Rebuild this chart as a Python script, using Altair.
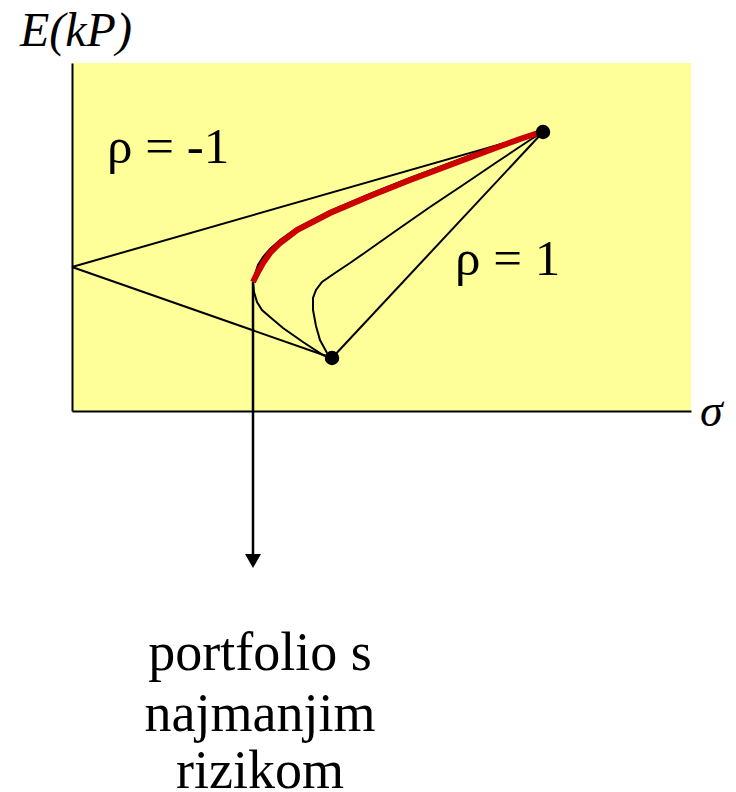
import altair as alt
import pandas as pd

# ---- data (sigma on x, expected return E(kP) on y; chart units) ----
asset_low = (260, 53)      # lower-risk asset
asset_high = (471, 279)    # higher-risk asset
vertex = (0, 144)          # rho = -1 zero-risk portfolio

outer_x = [260, 251, 231, 211, 198, 190, 185, 182, 181, 182, 183, 186, 191, 198, 208, 225, 258, 298, 338, 378, 418, 448, 471]
outer_y = [53, 56, 69, 83, 94, 101, 109, 119, 129, 133, 137, 146, 154, 162, 171, 183, 200, 217, 233, 248, 263, 273, 279]

inner_x = [260, 255, 248, 244, 241, 241, 244, 250, 263, 278, 291, 325, 358, 391, 425, 458, 471]
inner_y = [53, 58, 71, 85, 101, 113, 121, 129, 138, 148, 157, 181, 204, 226, 249, 271, 279]

frontier_x = [181, 186, 191, 198, 208, 225, 258, 298, 338, 378, 418, 448, 469]
frontier_y = [129, 139, 148, 158, 168, 181, 198, 215, 231, 246, 261, 272, 279]

min_risk = (181, 129)
arrow_end_y = -144
arrow_head_y = -150

labels_rho = ["ρ = -1", "ρ = 1"]
labels_rho_x = [35, 383]
labels_rho_y = [248, 136]

bottom_lines = ["portfolio s", "najmanjim", "rizikom"]
bottom_x = [188, 188, 188]
bottom_y = [-259, -320, -377]

# ---- build tables ----
rows = []
def add(series, xs, ys):
    for i, (a, b) in enumerate(zip(xs, ys)):
        rows.append({"series": series, "i": i, "x": a, "y": b})

add("minus1_low", [vertex[0], asset_low[0]], [vertex[1], asset_low[1]])
add("minus1_high", [vertex[0], asset_high[0]], [vertex[1], asset_high[1]])
add("plus1", [asset_low[0], asset_high[0]], [asset_low[1], asset_high[1]])
add("outer", outer_x, outer_y)
add("inner", inner_x, inner_y)
lines_df = pd.DataFrame(rows)

frontier_df = pd.DataFrame({"i": range(len(frontier_x)), "x": frontier_x, "y": frontier_y})
dots_df = pd.DataFrame({"x": [asset_low[0], asset_high[0]], "y": [asset_low[1], asset_high[1]]})
arrow_df = pd.DataFrame({"x": [min_risk[0]], "y": [min_risk[1]], "y2": [arrow_end_y]})
head_df = pd.DataFrame({"x": [min_risk[0]], "y": [arrow_head_y]})
rho_df = pd.DataFrame({"t": labels_rho, "x": labels_rho_x, "y": labels_rho_y})
bottom_df = pd.DataFrame({"t": bottom_lines, "x": bottom_x, "y": bottom_y})
ylab_df = pd.DataFrame({"t": ["E(kP)"], "x": [-52], "y": [365]})
xlab_df = pd.DataFrame({"t": ["σ"], "x": [628], "y": [-15]})

xs = alt.Scale(domain=[0, 619], nice=False, zero=False)
ys = alt.Scale(domain=[0, 348], nice=False, zero=False)
X = alt.X("x:Q", scale=xs, title=None)
Y = alt.Y("y:Q", scale=ys, title=None)

FONT = "Liberation Serif, Times New Roman, serif"

lines = alt.Chart(lines_df).mark_line(color="black", strokeWidth=2).encode(
    x=X, y=Y, detail="series:N", order="i:Q")
frontier = alt.Chart(frontier_df).mark_line(color="#CC0000", strokeWidth=6).encode(
    x=X, y=Y, order="i:Q")
dots = alt.Chart(dots_df).mark_circle(color="black", size=210, opacity=1).encode(x=X, y=Y)
arrow = alt.Chart(arrow_df).mark_rule(color="black", strokeWidth=2.5).encode(
    x=X, y=Y, y2="y2:Q")
head = alt.Chart(head_df).mark_point(shape="triangle-down", filled=True, color="black",
                                     size=256, opacity=1).encode(x=X, y=Y)
rho = alt.Chart(rho_df).mark_text(font=FONT, fontSize=51, align="left", baseline="alphabetic",
                                  color="black").encode(x=X, y=Y, text="t:N")
bottom = alt.Chart(bottom_df).mark_text(font=FONT, fontSize=54, align="center",
                                        baseline="alphabetic", color="black").encode(
    x=X, y=Y, text="t:N")
ylab = alt.Chart(ylab_df).mark_text(font=FONT, fontSize=48, fontStyle="italic", align="left",
                                    baseline="alphabetic", color="black").encode(
    x=X, y=Y, text="t:N")
xlab = alt.Chart(xlab_df).mark_text(font=FONT, fontSize=46, fontStyle="italic", align="left",
                                    baseline="alphabetic", color="black").encode(
    x=X, y=Y, text="t:N")

chart = alt.layer(lines, frontier, arrow, head, dots, rho, bottom, ylab, xlab).properties(
    width=619, height=348,
    autosize=alt.AutoSizeParams(type="none"),
    padding={"left": 64, "top": 55, "right": 37, "bottom": 381},
).configure_view(
    fill="#FFFF99", stroke=None
).configure_axis(
    labels=False, ticks=False, grid=False, domainColor="black", domainWidth=2
)

chart.save("out.html", embed_options={"renderer": "svg", "actions": False})
